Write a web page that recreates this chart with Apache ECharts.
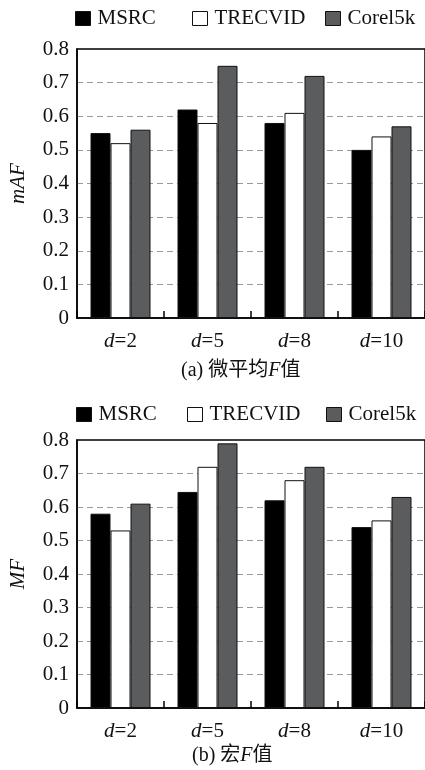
<!DOCTYPE html>
<html>
<head>
<meta charset="utf-8">
<script src="https://cdn.jsdelivr.net/npm/echarts@6/dist/echarts.min.js"></script>
<style>
  html, body { margin: 0; padding: 0; background: #fff; }
  #chart { width: 425px; height: 770px; }
</style>
</head>
<body>
<div id="chart"></div>
<script>
// categories and values
var categories = ['d=2', 'd=5', 'd=8', 'd=10']
var seriesNames = ['MSRC', 'TRECVID', 'Corel5k']
var yTicks = [0, 0.1, 0.2, 0.3, 0.4, 0.5, 0.6, 0.7, 0.8]

// (a) micro-average F
var mafMSRC = [0.55, 0.62, 0.58, 0.50]
var mafTRECVID = [0.52, 0.58, 0.61, 0.54]
var mafCorel = [0.56, 0.75, 0.72, 0.57]

// (b) macro F
var mfMSRC = [0.58, 0.645, 0.62, 0.54]
var mfTRECVID = [0.53, 0.72, 0.68, 0.56]
var mfCorel = [0.61, 0.79, 0.72, 0.63]

var serif = 'Liberation Serif, Times New Roman, serif'
var cjk = 'Liberation Serif, Noto Sans CJK SC, serif'
var colors = ['#000000', '#ffffff', '#5b5c5e']

var chart = echarts.init(document.getElementById('chart'))

function makeGrid(left, top, width, height) {
  return {
    left: left, top: top, width: width, height: height,
    show: true, borderColor: '#000', borderWidth: 1.5,
    backgroundColor: 'transparent'
  }
}

function makeXAxis(gridIndex) {
  return {
    type: 'category',
    gridIndex: gridIndex,
    data: categories,
    axisLine: { lineStyle: { color: '#000', width: 1.5 } },
    axisTick: { show: true, inside: true, interval: 0, length: 7, lineStyle: { color: '#000', width: 1.5 } },
    axisLabel: {
      interval: 0,
      margin: 13,
      color: '#111',
      fontFamily: serif,
      fontSize: 21,
      formatter: function (v) { return '{i|d}' + v.slice(1) },
      rich: { i: { fontStyle: 'italic', fontFamily: serif, fontSize: 21, color: '#111' } }
    }
  }
}

function makeYAxis(gridIndex, name) {
  var splitColors = yTicks.map(function (t, i) {
    return (i === 0 || i === yTicks.length - 1) ? 'rgba(0,0,0,0)' : '#9a9a9a'
  })
  return {
    type: 'value',
    gridIndex: gridIndex,
    min: 0,
    max: 0.8,
    interval: 0.1,
    name: name,
    nameLocation: 'middle',
    nameGap: 48,
    nameTextStyle: { fontFamily: serif, fontStyle: 'italic', fontSize: 21, color: '#111' },
    axisLine: { show: true, lineStyle: { color: '#000', width: 1.5 } },
    axisTick: { show: false },
    axisLabel: { margin: 8, color: '#111', fontFamily: serif, fontSize: 21 },
    splitLine: { show: true, lineStyle: { color: splitColors, type: [6, 4], width: 1 } }
  }
}

function makeSeries(gridIndex, data) {
  return seriesNames.map(function (name, i) {
    return {
      name: name,
      type: 'bar',
      xAxisIndex: gridIndex,
      yAxisIndex: gridIndex,
      barWidth: 20,
      barGap: '0%',
      itemStyle: { color: colors[i], borderColor: '#111', borderWidth: 1 },
      emphasis: { disabled: true },
      data: data[i]
    }
  })
}

// one legend per item so the uneven spacing of the figure can be kept
function makeLegends(top, lefts) {
  return seriesNames.map(function (name, i) {
    return {
      data: [{ name: name, icon: 'rect' }],
      left: lefts[i],
      top: top,
      padding: 0,
      itemWidth: 15,
      itemHeight: 14,
      itemGap: 0,
      selectedMode: false,
      itemStyle: { borderColor: '#111', borderWidth: 1 },
      textStyle: { fontFamily: serif, fontSize: 21, color: '#111', padding: [0, 0, 0, 2] }
    }
  })
}

chart.setOption({
  animation: false,
  color: colors,
  legend: makeLegends(8, [75, 192, 325]).concat(makeLegends(404, [76, 187, 326])),
  grid: [makeGrid(67, 49, 364, 269), makeGrid(73, 440, 361, 268)],
  xAxis: [makeXAxis(0), makeXAxis(1)],
  yAxis: [makeYAxis(0, 'mAF'), makeYAxis(1, 'MF')],
  series: makeSeries(0, [mafMSRC, mafTRECVID, mafCorel])
    .concat(makeSeries(1, [mfMSRC, mfTRECVID, mfCorel])),
  graphic: [
    {
      type: 'text', left: 181, top: 361,
      style: {
        text: '(a) 微平均{i|F}值', fontFamily: cjk, fontSize: 20, fill: '#111',
        rich: { i: { fontStyle: 'italic', fontFamily: serif, fontSize: 20, fill: '#111' } }
      }
    },
    {
      type: 'text', left: 192, top: 746,
      style: {
        text: '(b) 宏{i|F}值', fontFamily: cjk, fontSize: 20, fill: '#111',
        rich: { i: { fontStyle: 'italic', fontFamily: serif, fontSize: 20, fill: '#111' } }
      }
    }
  ]
})
</script>
</body>
</html>
